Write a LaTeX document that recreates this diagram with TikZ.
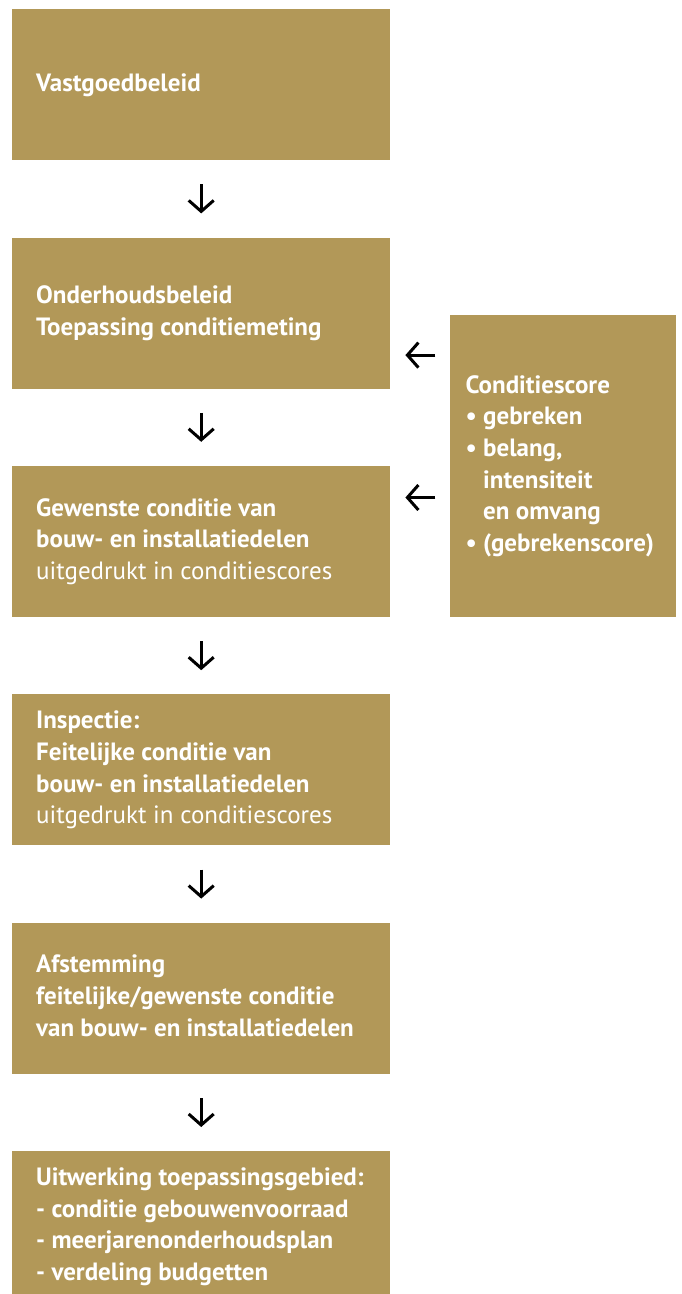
\documentclass[tikz,border=0pt]{standalone}
\usepackage{fontspec}
\setmainfont{PT Sans}
\usetikzlibrary{arrows.meta, positioning}

\definecolor{goud}{HTML}{B29858}
\newcommand{\regels}[2]{\makebox[#1][l]{\fontsize{25}{31.7}\selectfont\begin{tabular}{@{}l@{}}#2\end{tabular}}}
\newcommand{\dun}[1]{\textmd{#1}}

\tikzset{
    blok/.style={fill=goud, text=white, font=\bfseries, minimum width=378pt, minimum height=151pt,
        inner xsep=24pt, inner ysep=0pt},
    infoblok/.style={fill=goud, text=white, font=\bfseries, minimum width=226pt, minimum height=302pt,
        inner xsep=16pt, inner ysep=0pt},
    pijl/.style={line width=3pt, -{Straight Barb[length=11pt, width=25pt]}}
}

\begin{document}
\begin{tikzpicture}[x=1pt, y=-1pt, node distance=77pt]
    \useasboundingbox (0,0) rectangle (681,1294);

    \node[blok, anchor=north west] (vastgoed) at (12,9) {\regels{330pt}{Vastgoedbeleid}};
    \node[blok, below=of vastgoed] (onderhoud) {\regels{330pt}{Onderhoudsbeleid\\ Toepassing conditiemeting}};
    \node[blok, below=of onderhoud] (gewenst) {\regels{330pt}{Gewenste conditie van\\ bouw- en installatiedelen\\ \dun{uitgedrukt in conditiescores}}};
    \node[blok, below=of gewenst] (inspectie) {\regels{330pt}{Inspectie:\\ Feitelijke conditie van\\ bouw- en installatiedelen\\ \dun{uitgedrukt in conditiescores}}};
    \node[blok, below=of inspectie] (afstemming) {\regels{330pt}{Afstemming\\ feitelijke/gewenste conditie\\ van bouw- en installatiedelen}};
    \node[blok, below=of afstemming] (uitwerking) {\regels{330pt}{Uitwerking toepassingsgebied:\\ - conditie gebouwenvoorraad\\ - meerjarenonderhoudsplan\\ - verdeling budgetten}};

    \node[infoblok, anchor=south west] (conditiescore) at ([xshift=59pt]gewenst.south east)
        {\regels{194pt}{Conditiescore\\ \textbullet\ gebreken\\ \textbullet\ belang,\\ \phantom{\textbullet\ }intensiteit\\ \phantom{\textbullet\ }en omvang\\ \textbullet\ (gebrekenscore)}};

    \draw[pijl, shorten <=24pt, shorten >=24pt] (vastgoed) -- (onderhoud);
    \draw[pijl, shorten <=24pt, shorten >=24pt] (onderhoud) -- (gewenst);
    \draw[pijl, shorten <=24pt, shorten >=24pt] (gewenst) -- (inspectie);
    \draw[pijl, shorten <=24pt, shorten >=24pt] (inspectie) -- (afstemming);
    \draw[pijl, shorten <=24pt, shorten >=24pt] (afstemming) -- (uitwerking);

    \coordinate (naarOnderhoud) at ([yshift=-42pt]onderhoud.east);
    \coordinate (naarGewenst) at ([yshift=44pt]gewenst.east);
    \draw[pijl, shorten <=14pt, shorten >=15pt] (conditiescore.west |- naarOnderhoud) -- (naarOnderhoud);
    \draw[pijl, shorten <=14pt, shorten >=15pt] (conditiescore.west |- naarGewenst) -- (naarGewenst);
\end{tikzpicture}
\end{document}
